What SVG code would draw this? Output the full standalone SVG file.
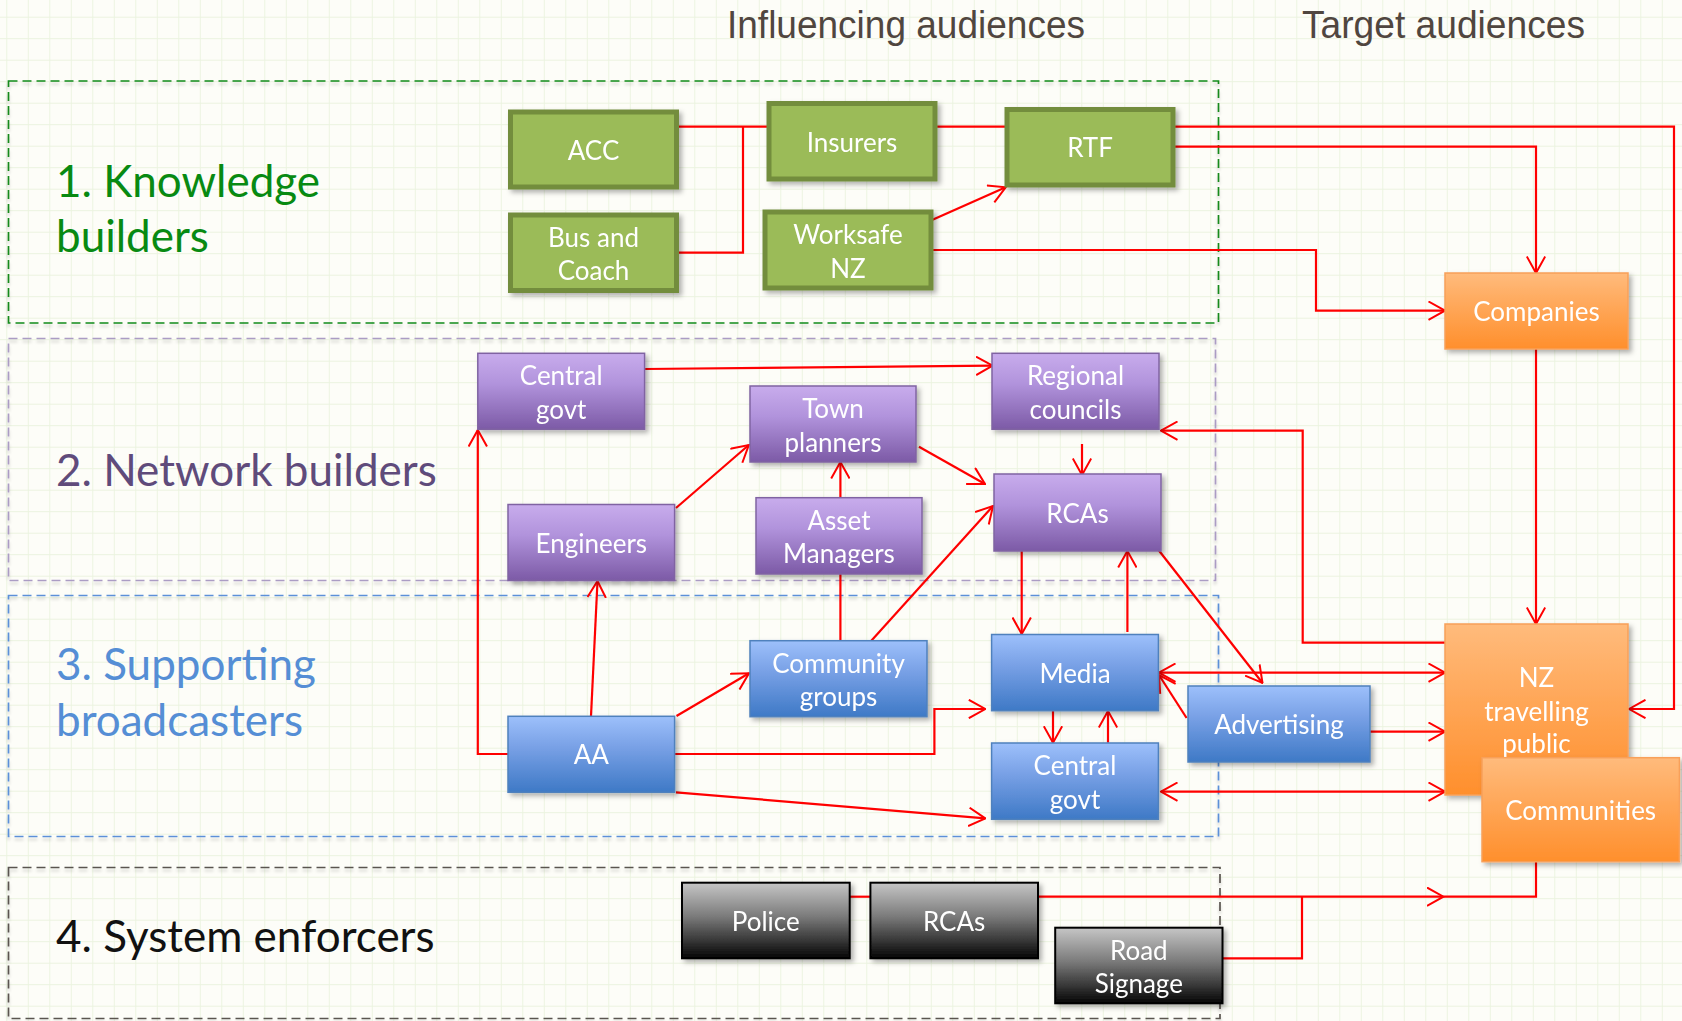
<svg xmlns="http://www.w3.org/2000/svg" width="1682" height="1021" viewBox="0 0 1682 1021">
<defs>
  <pattern id="grid" x="6.3" y="-4.8" width="21.5" height="21.5" patternUnits="userSpaceOnUse">
    <path d="M0,0 H21.5 M0,0 V21.5" fill="none" stroke="#ebf3df" stroke-width="1.8"/>
  </pattern>
  <linearGradient id="gPurple" x1="0" y1="0" x2="0" y2="1">
    <stop offset="0" stop-color="#c8acec"/>
    <stop offset="0.4" stop-color="#b193dc"/>
    <stop offset="1" stop-color="#7c5aa6"/>
  </linearGradient>
  <linearGradient id="gBlue" x1="0" y1="0" x2="0" y2="1">
    <stop offset="0" stop-color="#9dc0fb"/>
    <stop offset="0.4" stop-color="#79a1e6"/>
    <stop offset="1" stop-color="#3e79c6"/>
  </linearGradient>
  <linearGradient id="gOrange" x1="0" y1="0" x2="0" y2="1">
    <stop offset="0" stop-color="#ffbb7c"/>
    <stop offset="0.4" stop-color="#ffa95c"/>
    <stop offset="1" stop-color="#ff8f2c"/>
  </linearGradient>
  <linearGradient id="gBlack" x1="0" y1="0" x2="0" y2="1">
    <stop offset="0" stop-color="#c6c6c6"/>
    <stop offset="0.45" stop-color="#7a7a7a"/>
    <stop offset="1" stop-color="#050505"/>
  </linearGradient>
  <filter id="shadow" x="-10%" y="-10%" width="125%" height="130%">
    <feDropShadow dx="3" dy="3" stdDeviation="2.5" flood-color="#000" flood-opacity="0.3"/>
  </filter>
  <filter id="bshadow" x="-2%" y="-5%" width="104%" height="110%">
    <feDropShadow dx="0" dy="3" stdDeviation="1.5" flood-color="#000" flood-opacity="0.18"/>
  </filter>
  <marker id="arr" viewBox="0 0 18 20" refX="17" refY="10" markerWidth="18" markerHeight="20" markerUnits="userSpaceOnUse" orient="auto-start-reverse">
    <path d="M0.5,0.8 L17,10 L0.5,19.2" fill="none" stroke="#ff0000" stroke-width="2"/>
  </marker>
  <style>
    .hdr{font-family:"Liberation Sans",Arial,sans-serif;font-size:38px;fill:#50463f}
    .sec{font-family:Lato,"Noto Sans",sans-serif;font-size:44px}
    .nt{font-family:Lato,"Noto Sans",sans-serif;font-size:26px;fill:#ffffff;text-anchor:middle}
    .green rect{fill:#9bbb59;stroke:#738d3d;stroke-width:5}
    .purple rect{fill:url(#gPurple);stroke:#8064a2;stroke-width:1.5}
    .blue rect{fill:url(#gBlue);stroke:#4f81bd;stroke-width:1.5}
    .orange rect{fill:url(#gOrange);stroke:#f8a05a;stroke-width:1.5}
    .black rect{fill:url(#gBlack);stroke:#000;stroke-width:2}
    .node{filter:url(#shadow)}
    .band{fill:none;stroke-width:1.7;filter:url(#bshadow)}
    .c{fill:none;stroke:#ff0000;stroke-width:2.2}
    .a{marker-end:url(#arr)}
    .aa{marker-start:url(#arr);marker-end:url(#arr)}
  </style>
</defs>

<rect width="1682" height="1021" fill="#fdfdf8"/>
<rect width="1682" height="1021" fill="url(#grid)"/>

<!-- headers -->
<text class="hdr" x="727" y="38" textLength="358" lengthAdjust="spacingAndGlyphs">Influencing audiences</text>
<text class="hdr" x="1302" y="38" textLength="283" lengthAdjust="spacingAndGlyphs">Target audiences</text>

<!-- bands -->
<g id="bands">
  <rect class="band" x="8.5" y="81" width="1210" height="242" stroke="#138a1c" stroke-dasharray="9 5"/>
  <rect class="band" x="8.5" y="338.5" width="1207" height="242" stroke="#ab9cc4" stroke-dasharray="9 5"/>
  <rect class="band" x="8.5" y="595.5" width="1210" height="241" stroke="#5b90d8" stroke-dasharray="9 5"/>
  <rect class="band" x="8.5" y="867.5" width="1211.5" height="151" stroke="#5a5550" stroke-dasharray="9 5"/>
</g>

<!-- section labels -->
<g id="labels">
  <text class="sec" x="56" y="197" fill="#088a12">1. Knowledge</text>
  <text class="sec" x="56" y="252" fill="#088a12">builders</text>
  <text class="sec" x="56" y="486" fill="#5f4b7b">2. Network builders</text>
  <text class="sec" x="56" y="680" fill="#558ed5">3. Supporting</text>
  <text class="sec" x="56" y="736" fill="#558ed5">broadcasters</text>
  <text class="sec" x="56" y="952" fill="#111111">4. System enforcers</text>
</g>

<!-- connectors -->
<g id="connectors">
  <path class="c" d="M678,126.7 H767"/>
  <path class="c" d="M678,252.7 H743 V126.7"/>
  <path class="c" d="M937,126.7 H1005"/>
  <path class="c a" d="M1174.7,126.7 H1674 V709 H1629"/>
  <path class="c a" d="M1174.7,146.7 H1536 V273"/>
  <path class="c a" d="M932,220 L1005.7,187.3"/>
  <path class="c a" d="M933,250 H1316 V310.7 H1445"/>
  <path class="c a" d="M1536,349 V624"/>
  <path class="c a" d="M644.6,369 L992.6,365.7"/>
  <path class="c a" d="M1445,642.7 H1302.7 V430.7 H1161"/>
  <path class="c a" d="M1082,444 V475"/>
  <path class="c a" d="M919,446.7 L985,484"/>
  <path class="c a" d="M676,508 L748.8,445"/>
  <path class="c a" d="M840.4,497.7 V462"/>
  <path class="c" d="M840.4,640.7 V574"/>
  <path class="c a" d="M870.4,641.7 L993,506"/>
  <path class="c a" d="M1021.7,551 V634"/>
  <path class="c a" d="M1127.4,632 V551"/>
  <path class="c a" d="M1158.5,550 L1262.5,683"/>
  <path class="c a" d="M591,716 L597.5,581"/>
  <path class="c a" d="M508,754 H477.8 V430"/>
  <path class="c a" d="M676.5,716 L749,673.3"/>
  <path class="c a" d="M674.6,754 H934.4 V709 H985.3"/>
  <path class="c a" d="M676,792.3 L985.3,818.3"/>
  <path class="c a" d="M1053,710.7 V742.7"/>
  <path class="c a" d="M1108,742.7 V711"/>
  <path class="c aa" d="M1159,672.7 H1445"/>
  <path class="c a" d="M1186.6,718 L1159,675"/>
  <path class="c a" d="M1370,731.7 H1445"/>
  <path class="c aa" d="M1161,791.7 H1445"/>
  <path class="c" d="M849.7,896.7 H870.4"/>
  <path class="c a" d="M1038,896.7 H1443.5"/>
  <path class="c" d="M1443.5,896.7 H1536 V861.7"/>
  <path class="c" d="M1222.5,958.3 H1302 V896.7"/>
</g>

<!-- knowledge builders -->
<g id="acc" class="node green"><rect x="510.5" y="112" width="166" height="75"/><text class="nt" x="593.5" y="159.5">ACC</text></g>
<g id="buscoach" class="node green"><rect x="510.5" y="215" width="166" height="75.5"/><text class="nt" x="593.5" y="246.5">Bus and</text><text class="nt" x="593.5" y="280">Coach</text></g>
<g id="insurers" class="node green"><rect x="769" y="103.5" width="166" height="75.5"/><text class="nt" x="852" y="151.5">Insurers</text></g>
<g id="worksafe" class="node green"><rect x="765" y="212" width="166" height="76"/><text class="nt" x="848" y="244">Worksafe</text><text class="nt" x="848" y="277.5">NZ</text></g>
<g id="rtf" class="node green"><rect x="1007" y="109.5" width="166" height="75.5"/><text class="nt" x="1090" y="157">RTF</text></g>

<!-- network builders -->
<g id="centralgovt1" class="node purple"><rect x="477.8" y="353.3" width="166.8" height="76"/><text class="nt" x="561.2" y="385">Central</text><text class="nt" x="561.2" y="418.5">govt</text></g>
<g id="townplanners" class="node purple"><rect x="750" y="386" width="166" height="76"/><text class="nt" x="833" y="418">Town</text><text class="nt" x="833" y="451.5">planners</text></g>
<g id="regional" class="node purple"><rect x="992" y="353.3" width="167" height="76"/><text class="nt" x="1075.5" y="385">Regional</text><text class="nt" x="1075.5" y="418.5">councils</text></g>
<g id="engineers" class="node purple"><rect x="508" y="504.5" width="166.6" height="76"/><text class="nt" x="591.3" y="552.5">Engineers</text></g>
<g id="assetmanagers" class="node purple"><rect x="756" y="497.7" width="166" height="76.3"/><text class="nt" x="839" y="529.8">Asset</text><text class="nt" x="839" y="563.3">Managers</text></g>
<g id="rcas1" class="node purple"><rect x="994" y="474" width="167" height="77"/><text class="nt" x="1077.5" y="522.5">RCAs</text></g>

<!-- supporting broadcasters -->
<g id="community" class="node blue"><rect x="750" y="640.7" width="177" height="76"/><text class="nt" x="838.5" y="672.5">Community</text><text class="nt" x="838.5" y="706">groups</text></g>
<g id="aa" class="node blue"><rect x="508" y="716.3" width="166.6" height="76"/><text class="nt" x="591.3" y="764.3">AA</text></g>
<g id="media" class="node blue"><rect x="991.6" y="634.5" width="166.8" height="76.2"/><text class="nt" x="1075" y="682.5">Media</text></g>
<g id="centralgovt2" class="node blue"><rect x="991.6" y="743" width="166.8" height="76.3"/><text class="nt" x="1075" y="775">Central</text><text class="nt" x="1075" y="808.5">govt</text></g>
<g id="advertising" class="node blue"><rect x="1188" y="686" width="182" height="76"/><text class="nt" x="1279" y="734">Advertising</text></g>

<!-- target audiences -->
<g id="companies" class="node orange"><rect x="1445" y="273" width="183" height="76"/><text class="nt" x="1536.5" y="321">Companies</text></g>
<g id="nzpublic" class="node orange"><rect x="1445" y="624" width="183" height="171"/><text class="nt" x="1536.5" y="686.5">NZ</text><text class="nt" x="1536.5" y="720.5">travelling</text><text class="nt" x="1536.5" y="753">public</text></g>
<g id="communities" class="node orange"><rect x="1482" y="757.7" width="197.4" height="104"/><text class="nt" x="1580.7" y="819.5">Communities</text></g>

<!-- system enforcers -->
<g id="police" class="node black"><rect x="682" y="882.7" width="167.7" height="75.6"/><text class="nt" x="765.8" y="930.5">Police</text></g>
<g id="rcas2" class="node black"><rect x="870.4" y="882.7" width="167.6" height="75.6"/><text class="nt" x="954.2" y="930.5">RCAs</text></g>
<g id="roadsignage" class="node black"><rect x="1055.2" y="927.7" width="167.3" height="75.6"/><text class="nt" x="1138.8" y="959.5">Road</text><text class="nt" x="1138.8" y="993">Signage</text></g>
</svg>
